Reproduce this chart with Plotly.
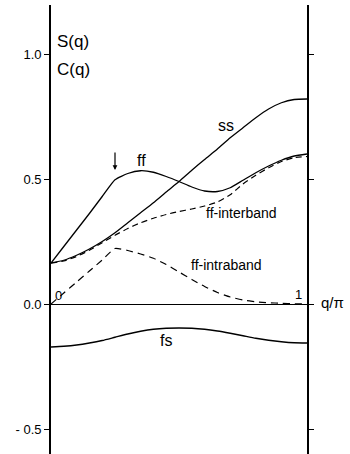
import plotly.graph_objects as go

q = [0.0, 0.05, 0.1, 0.15, 0.2, 0.25, 0.3, 0.35, 0.4, 0.45, 0.5,
     0.55, 0.6, 0.65, 0.7, 0.75, 0.8, 0.85, 0.9, 0.95, 1.0]

ss = [0.164, 0.175, 0.195, 0.22, 0.25, 0.285, 0.325, 0.365, 0.405, 0.448, 0.49,
      0.535, 0.578, 0.62, 0.665, 0.705, 0.745, 0.78, 0.805, 0.818, 0.82]

ff = [0.164, 0.23, 0.296, 0.362, 0.43, 0.497, 0.522, 0.533, 0.527, 0.51, 0.49,
      0.468, 0.452, 0.45, 0.465, 0.495, 0.525, 0.552, 0.575, 0.592, 0.6]

ff_inter = [0.164, 0.172, 0.19, 0.215, 0.245, 0.275, 0.302, 0.325, 0.343, 0.358, 0.37,
            0.38, 0.392, 0.408, 0.437, 0.48, 0.515, 0.545, 0.57, 0.585, 0.59]

ff_intra = [0.0, 0.044, 0.088, 0.132, 0.176, 0.222, 0.214, 0.2, 0.183, 0.158, 0.128,
            0.098, 0.07, 0.046, 0.028, 0.016, 0.009, 0.005, 0.003, 0.001, 0.0]

fs = [-0.172, -0.169, -0.164, -0.156, -0.146, -0.133, -0.12, -0.109, -0.101, -0.097, -0.096,
      -0.097, -0.101, -0.108, -0.117, -0.127, -0.137, -0.145, -0.151, -0.155, -0.156]

ytick_vals = [-0.5, 0.0, 0.5, 1.0]
ytick_text = ["- 0.5", "0.0", "0.5", "1.0"]

FONT = "Liberation Sans"

fig = go.Figure()
solid = dict(color="black", width=1.3)
fig.add_trace(go.Scatter(x=q, y=ss, mode="lines", line=dict(**solid, shape="spline", smoothing=0.6)))
fig.add_trace(go.Scatter(x=q, y=ff, mode="lines", line=dict(**solid, shape="spline", smoothing=0.5)))
fig.add_trace(go.Scatter(x=q, y=ff_inter, mode="lines",
                         line=dict(color="black", width=1.2, dash="6px,4px", shape="spline", smoothing=0.6)))
fig.add_trace(go.Scatter(x=q, y=ff_intra, mode="lines",
                         line=dict(color="black", width=1.2, dash="7px,5px", shape="spline", smoothing=0.5)))
fig.add_trace(go.Scatter(x=q, y=fs, mode="lines", line=dict(**solid, shape="spline", smoothing=0.6)))

def txt(x, y, s, size=13, xanchor="center", xref="x"):
    fig.add_annotation(x=x, y=y, text=s, showarrow=False, xref=xref, yref="y",
                       xanchor=xanchor, yanchor="middle",
                       font=dict(family=FONT, size=size, color="black"))

txt(0.016, 1.052, "S(q)", size=17, xanchor="left")
txt(0.016, 0.94, "C(q)", size=17, xanchor="left")
txt(0.352, 0.574, "ff", size=16)
txt(0.684, 0.716, "ss", size=16)
txt(0.746, 0.364, "ff-interband", size=14)
txt(0.684, 0.156, "ff-intraband", size=14)
txt(0.449, -0.144, "fs", size=16)
txt(0.031, 0.034, "0", size=13)
txt(0.965, 0.04, "1", size=13)
txt(1.098, 0.008, "q/π", size=15, xref="paper")

fig.add_annotation(x=0.25, y=0.536, xref="x", yref="y", ax=0, ay=-19,
                   showarrow=True, arrowhead=2, arrowsize=0.8, arrowwidth=1.2,
                   arrowcolor="black", text="")

fig.update_layout(
    width=350, height=454,
    margin=dict(l=51, r=43, t=5, b=0, autoexpand=False),
    paper_bgcolor="white", plot_bgcolor="white",
    showlegend=False,
    xaxis=dict(range=[0, 1], visible=False, showgrid=False, zeroline=False),
    yaxis=dict(range=[-0.6, 1.196], showgrid=False,
               showline=True, linecolor="black", linewidth=1.8,
               mirror="ticks", ticks="outside", ticklen=5, tickwidth=1.2, tickcolor="black",
               tickvals=ytick_vals, ticktext=ytick_text,
               tickfont=dict(family=FONT, size=13, color="black"),
               zeroline=True, zerolinecolor="black", zerolinewidth=1.2),
)

fig.write_html("out.html", config={"displayModeBar": False},
               post_script="document.body.style.margin='0';document.body.style.overflow='hidden';")
